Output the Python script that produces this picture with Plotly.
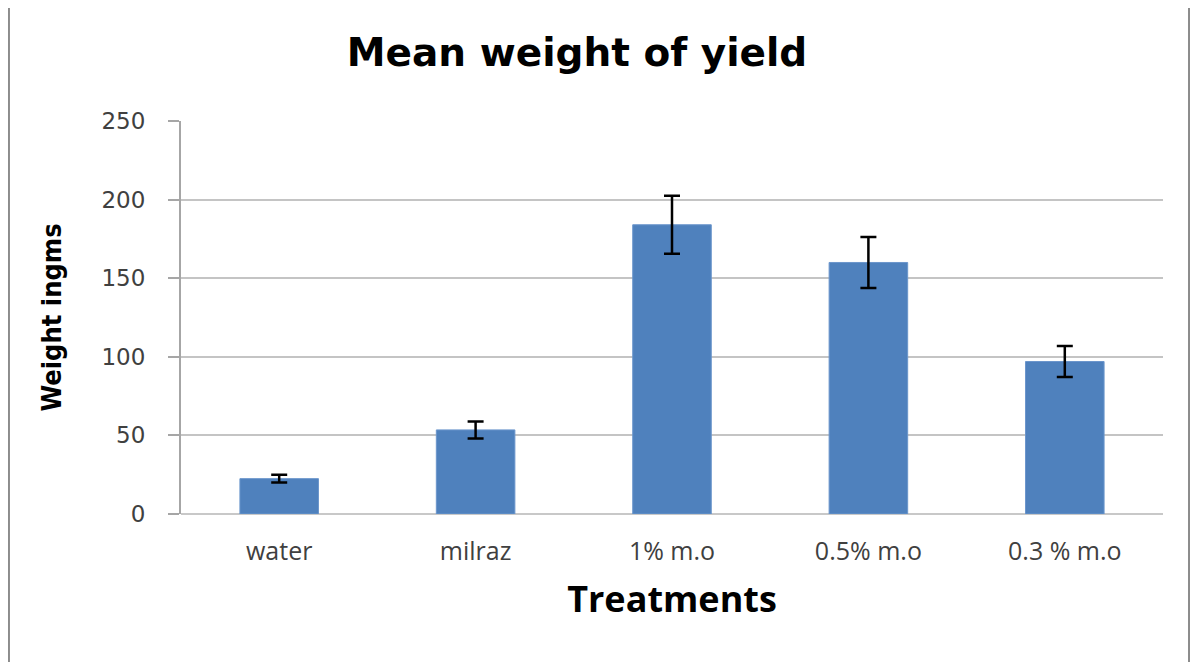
import plotly.graph_objects as go

categories = ["water", "milraz", "1% m.o", "0.5% m.o", "0.3 % m.o"]
means = [22.5, 53.5, 184, 160, 97]
errors = [2.5, 5.4, 18.5, 16.2, 9.9]
y_ticks = [0, 50, 100, 150, 200, 250]

fig = go.Figure()
fig.add_trace(go.Bar(
    x=categories, y=means,
    marker=dict(color="#4f81bd", line=dict(color="#6b96cc", width=1)),
    error_y=dict(type="data", array=errors, visible=True, color="#000000", thickness=2.5, width=8),
))

fig.update_layout(
    width=1182, height=654,
    paper_bgcolor="white", plot_bgcolor="white",
    margin=dict(l=173, r=27, t=113, b=148),
    bargap=0.6,
    showlegend=False,
    title=dict(text="<b>Mean weight of yield</b>", x=0.4814, xanchor="center", y=1 - 44 / 654, yanchor="middle",
               font=dict(family="DejaVu Sans", size=39, color="#000000")),
    xaxis=dict(
        showgrid=False, showline=False, ticks="", ticklabelstandoff=20,
        tickfont=dict(family="Open Sans", size=25, color="#404040"),
        title=dict(text="<b>Treatments</b>", font=dict(family="Open Sans", size=36, color="#000000"), standoff=20),
    ),
    yaxis=dict(
        range=[0, 250], tickvals=y_ticks, showgrid=True, gridcolor="#c4c4c4", gridwidth=2,
        showline=True, linecolor="#a6a6a6", linewidth=2, ticks="outside", ticklen=11, tickcolor="#a6a6a6", tickwidth=2,
        zeroline=True, zerolinecolor="#c8c8c8", zerolinewidth=2, ticklabelstandoff=18,
        tickfont=dict(family="DejaVu Sans", size=23, color="#404040"),
        title=dict(text="<b>Weight ingms</b>",
                   font=dict(family="DejaVu Sans Condensed, Liberation Sans Narrow, Open Sans", size=27, color="#000000"),
                   standoff=32),
    ),
    shapes=[dict(type="rect", xref="paper", yref="paper", x0=-0.1752, x1=1.0265, y0=-0.5, y1=1.290,
                 line=dict(color="#8c8c8c", width=2), fillcolor="rgba(0,0,0,0)", layer="below")],
)

fig.write_html("out.html")
